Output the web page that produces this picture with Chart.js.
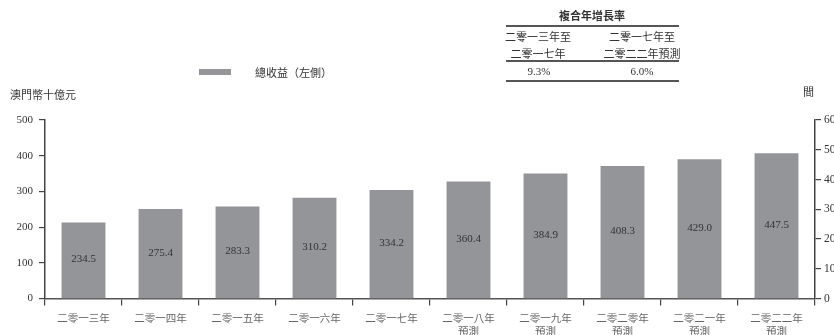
<!DOCTYPE html>
<html>
<head>
<meta charset="utf-8">
<script src="https://cdn.jsdelivr.net/npm/chart.js@4"></script>
<style>
  body { margin: 0; background: #fff; }
  #wrap { position: relative; width: 834px; height: 335px; overflow: hidden; }
  #chart { position: absolute; left: 0; top: 0; }
  .txt { position: absolute; font-family: "Noto Sans CJK TC", sans-serif; font-size: 11px; color: #333; white-space: nowrap; line-height: 14px; }
  .num { font-family: "Liberation Serif", serif; font-size: 11px; }
  .rule { position: absolute; height: 1.5px; background: #555; left: 506px; width: 173px; }
  .ctr { transform: translateX(-50%); text-align: center; }
  #legbox { position: absolute; left: 199px; top: 69px; width: 32px; height: 6px; background: #939598; }
</style>
</head>
<body>
<div id="wrap">
  <canvas id="chart" width="834" height="335"></canvas>

  <!-- 複合年增長率 表 -->
  <div class="txt ctr" style="left:592px; top:8px; font-weight:bold;">複合年增長率</div>
  <div class="rule" style="top:25px;"></div>
  <div class="txt ctr" style="left:538px; top:28px; line-height:17px;">二零一三年至<br>二零一七年</div>
  <div class="txt ctr" style="left:642px; top:28px; line-height:17px;">二零一七年至<br>二零二二年預測</div>
  <div class="rule" style="top:60px;"></div>
  <div class="txt num ctr" style="left:539px; top:64px;">9.3%</div>
  <div class="txt num ctr" style="left:642px; top:64px;">6.0%</div>
  <div class="rule" style="top:80px;"></div>

  <div id="legbox"></div>
  <div class="txt" style="left:255px; top:65px;">總收益（左側）</div>
  <div class="txt" style="left:10px; top:87px;">澳門幣十億元</div>
  <div class="txt" style="left:803px; top:84px;">間</div>
</div>
<script>
const anos = [
  "二零一三年", "二零一四年", "二零一五年", "二零一六年", "二零一七年",
  ["二零一八年", "預測"], ["二零一九年", "預測"], ["二零二零年", "預測"],
  ["二零二一年", "預測"], ["二零二二年", "預測"]
];
const receitas = [234.5, 275.4, 283.3, 310.2, 334.2, 360.4, 384.9, 408.3, 429.0, 447.5];
const ticksEsq = [0, 100, 200, 300, 400, 500];
const ticksDir = [0, 10, 20, 30, 40, 50, 60];

const corEixo = "#444";

// escreve o valor no meio de cada barra
const rotulos = {
  id: "rotulos",
  afterDatasetsDraw(chart) {
    const ctx = chart.ctx;
    const meta = chart.getDatasetMeta(0);
    ctx.save();
    ctx.font = "11px 'Liberation Serif', serif";
    ctx.fillStyle = "#333";
    ctx.textAlign = "center";
    ctx.textBaseline = "middle";
    meta.data.forEach((bar, i) => {
      ctx.fillText(receitas[i].toFixed(1), bar.x, (bar.y + bar.base) / 2 - 1);
    });
    ctx.restore();
  }
};

new Chart(document.getElementById("chart"), {
  type: "bar",
  data: {
    labels: anos,
    datasets: [{
      label: "總收益（左側）",
      data: receitas,
      yAxisID: "yBarra",
      backgroundColor: "#939598",
      barPercentage: 0.57,
      categoryPercentage: 1
    }]
  },
  options: {
    responsive: false,
    animation: false,
    layout: { padding: { top: 120, left: 0, right: 0, bottom: 0 } },
    plugins: { legend: { display: false }, tooltip: { enabled: false } },
    scales: {
      x: {
        offset: true,
        grid: { display: true, drawOnChartArea: false, drawTicks: true, tickLength: 7, color: corEixo, lineWidth: 1.2 },
        border: { color: "#555", width: 1.5 },
        ticks: {
          padding: 6,
          color: "#666",
          maxRotation: 0,
          autoSkip: false,
          font: { family: "'Noto Sans CJK TC', sans-serif", size: 10.5, lineHeight: 1.25 }
        },
        afterFit(s) { s.height = 36.5; }
      },
      y: {
        position: "left",
        min: 0, max: 500,
        afterBuildTicks(s) { s.ticks = ticksEsq.map(v => ({ value: v })); },
        grid: { drawOnChartArea: false, tickLength: 6, color: corEixo, lineWidth: 1.2 },
        border: { color: corEixo, width: 1.5 },
        ticks: { padding: 6, color: "#333", font: { family: "'Liberation Serif', serif", size: 11 } },
        afterFit(s) { s.width = 45; }
      },
      y2: {
        position: "right",
        min: 0, max: 60,
        afterBuildTicks(s) { s.ticks = ticksDir.map(v => ({ value: v })); },
        grid: { drawOnChartArea: false, tickLength: 6, color: corEixo, lineWidth: 1.2 },
        border: { color: corEixo, width: 1.5 },
        ticks: { padding: 3, color: "#333", font: { family: "'Liberation Serif', serif", size: 11.5 } },
        afterFit(s) { s.width = 19; }
      },
      yBarra: {
        display: false,
        min: 0, max: 550
      }
    }
  },
  plugins: [rotulos]
});
</script>
</body>
</html>
